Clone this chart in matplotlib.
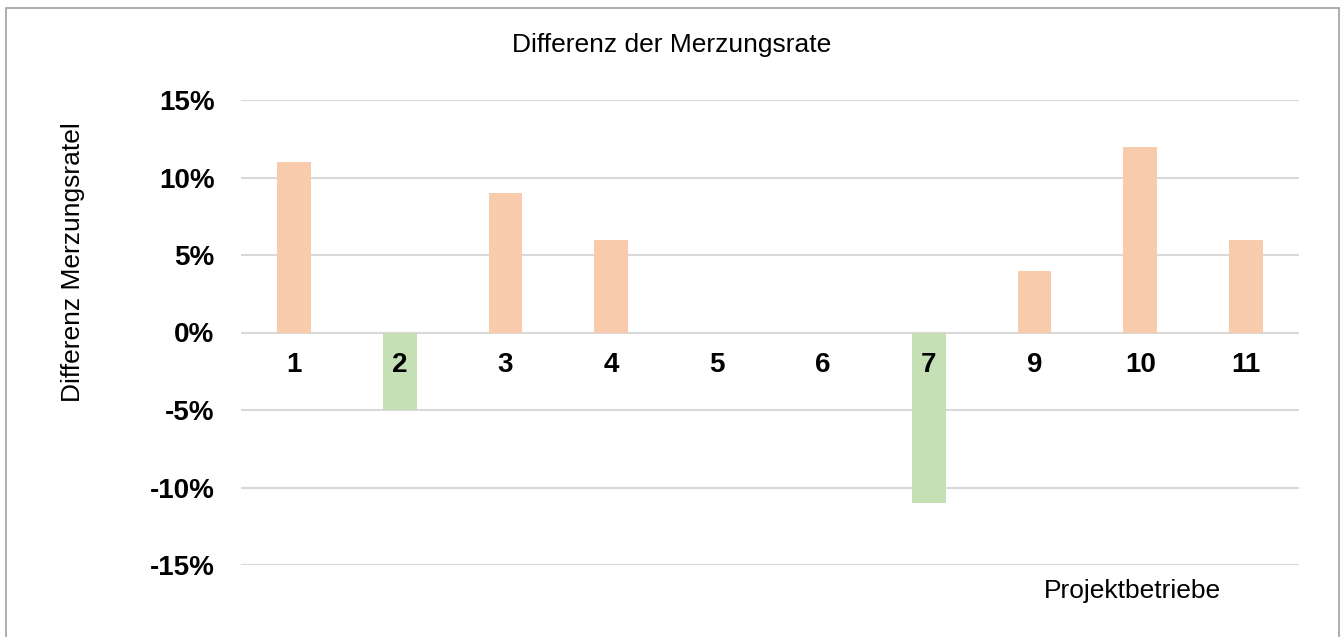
import numpy as np
import matplotlib.pyplot as plt
from matplotlib.patches import Rectangle
from matplotlib.ticker import FuncFormatter

plt.rcParams['font.family'] = ['Liberation Sans', 'DejaVu Sans']

# data
betriebe = ['1', '2', '3', '4', '5', '6', '7', '9', '10', '11']
differenz = [11, -5, 9, 6, 0, 0, -11, 4, 12, 6]   # percent
y_ticks = [-15, -10, -5, 0, 5, 10, 15]

pos_color = '#F8CBAD'
neg_color = '#C5E0B4'
grid_color = '#D9D9D9'

fig = plt.figure(figsize=(13.41, 6.37), dpi=100)
ax = fig.add_axes([241 / 1341, 1 - 565 / 637, (1299 - 241) / 1341, (565 - 100) / 637])

x = np.arange(len(betriebe))
colors = [pos_color if v >= 0 else neg_color for v in differenz]
ax.bar(x, differenz, width=0.32, color=colors, zorder=3)

ax.set_xlim(-0.5, len(betriebe) - 0.5)
ax.set_ylim(-15, 15)
ax.set_yticks(y_ticks)
ax.yaxis.set_major_formatter(FuncFormatter(lambda v, p: f'{v:.0f}%'))
ax.grid(axis='y', color=grid_color, linewidth=1.5, zorder=0)

ax.set_xticks(x)
ax.set_xticklabels(betriebe)
ax.spines['bottom'].set_position(('data', 0))
for s in ['top', 'right', 'left', 'bottom']:
    ax.spines[s].set_visible(False)
ax.tick_params(axis='x', length=0, pad=14, labelsize=20)
ax.tick_params(axis='y', length=0, pad=19, labelsize=20)
for lab in ax.get_xticklabels() + ax.get_yticklabels():
    lab.set_fontweight('bold')
# category labels sit on top of the bars
ax.xaxis.set_zorder(5)

fig.text(672 / 1341, 1 - 45 / 637, 'Differenz der Merzungsrate', ha='center', va='center', fontsize=19)
fig.text(73 / 1341, 1 - 262 / 637, 'Differenz Merzungsratel', ha='center', va='center',
         rotation=90, fontsize=19)
fig.text(1132 / 1341, 1 - 591 / 637, 'Projektbetriebe', ha='center', va='center', fontsize=19)

# outer frame
fig.patches.append(Rectangle((6 / 1341, -0.05), (1339 - 6) / 1341, 1.05 - 8 / 637,
                             transform=fig.transFigure, fill=False,
                             edgecolor='#A0A0A0', linewidth=1.2))

fig.savefig('out.png', dpi=100)
